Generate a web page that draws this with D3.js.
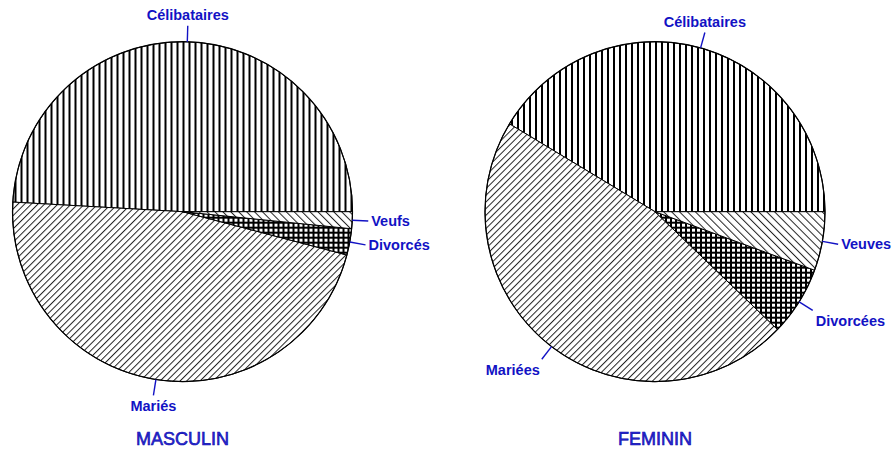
<!DOCTYPE html>
<html>
<head>
<meta charset="utf-8">
<script src="https://cdn.jsdelivr.net/npm/d3@7"></script>
<style>
  html, body { margin: 0; padding: 0; background: #fff; }
  svg { display: block; }
</style>
</head>
<body>
<svg id="chart" width="893" height="455"></svg>
<script>
// ---- data ----
const panels = ["MASCULIN", "FEMININ"];
const categoriesMasculin = ["Célibataires", "Mariés", "Divorcés", "Veufs"];
const categoriesFeminin = ["Célibataires", "Mariées", "Divorcées", "Veuves"];
const valuesMasculin = [49.1, 46.8, 2.5, 1.6];
const valuesFeminin = [41.4, 46.5, 6.6, 5.6];
const patternKeys = ["vert", "slash", "cross", "back"];

// ---- drawing ----
const svg = d3.select("#chart");
const W = 893, H = 455;
const defs = svg.append("defs");

// vertical lines
const pV = defs.append("pattern").attr("id", "vert").attr("patternUnits", "userSpaceOnUse")
  .attr("width", 6).attr("height", 6);
pV.append("rect").attr("width", 6).attr("height", 6).attr("fill", "#fff");
pV.append("rect").attr("x", 0).attr("width", 2).attr("height", 6).attr("fill", "#000");

// "/" lines
const pS = defs.append("pattern").attr("id", "slash").attr("patternUnits", "userSpaceOnUse")
  .attr("width", 4.7).attr("height", 10).attr("patternTransform", "rotate(45)");
pS.append("rect").attr("width", 4.7).attr("height", 10).attr("fill", "#fff");
pS.append("rect").attr("x", 0).attr("width", 1).attr("height", 10).attr("fill", "#222");

// "\" lines
const pB = defs.append("pattern").attr("id", "back").attr("patternUnits", "userSpaceOnUse")
  .attr("width", 5.6).attr("height", 10).attr("patternTransform", "rotate(-45)");
pB.append("rect").attr("width", 5.6).attr("height", 10).attr("fill", "#fff");
pB.append("rect").attr("x", 0).attr("width", 1).attr("height", 10).attr("fill", "#222");

// crosshatch grid
const pC = defs.append("pattern").attr("id", "cross").attr("patternUnits", "userSpaceOnUse")
  .attr("width", 5).attr("height", 5);
pC.append("rect").attr("width", 5).attr("height", 5).attr("fill", "#fff");
pC.append("rect").attr("x", 0).attr("width", 2).attr("height", 5).attr("fill", "#000");
pC.append("rect").attr("y", 0).attr("width", 5).attr("height", 2).attr("fill", "#000");

const blue = "#1212c4";
const R = 170;
const centers = d3.scalePoint().domain(panels).range([182.5, 655]);
const cy = 211.7;

const pie = d3.pie().sort(null)
  .startAngle(Math.PI / 2)
  .endAngle(Math.PI / 2 - 2 * Math.PI);
const arc = d3.arc().innerRadius(0).outerRadius(R);

const datasets = [
  { name: panels[0], cats: categoriesMasculin, vals: valuesMasculin },
  { name: panels[1], cats: categoriesFeminin, vals: valuesFeminin }
];

datasets.forEach(ds => {
  const cx = centers(ds.name);
  const g = svg.append("g").attr("transform", `translate(${cx},${cy})`);
  const arcs = pie(ds.vals.map((v, i) => ({ v, i }))
  ).map(a => a);
  const arcsData = pie.value(d => d.v)(ds.vals.map((v, i) => ({ v, i })));

  g.selectAll("path.slice").data(arcsData).enter().append("path")
    .attr("class", "slice")
    .attr("d", arc)
    .attr("fill", d => `url(#${patternKeys[d.data.i]})`)
    .attr("stroke", "#000")
    .attr("stroke-width", 1)
    .attr("stroke-linejoin", "round");

  g.append("circle").attr("r", R).attr("fill", "none").attr("stroke", "#000").attr("stroke-width", 1.2);

  arcsData.forEach(d => {
    const m = (d.startAngle + d.endAngle) / 2; // d3 angle: 0 at top, clockwise
    const sx = Math.sin(m), syUp = Math.cos(m); // sx: to right, syUp: upward
    const x1 = sx * R, y1 = -syUp * R;
    const x2 = sx * (R + 16), y2 = -syUp * (R + 16);
    g.append("line").attr("x1", x1).attr("y1", y1).attr("x2", x2).attr("y2", y2)
      .attr("stroke", blue).attr("stroke-width", 1.4);
    let anchor, tx, ty;
    if (sx > 0.3) { anchor = "start"; tx = x2 + 3; }
    else if (sx < -0.3) { anchor = "end"; tx = x2 - 2; }
    else { anchor = "middle"; tx = x2; }
    let off = 0;
    if (Math.abs(syUp) > 0.45) off = syUp > 0 ? -11 : 11;
    ty = y2 + off + 5;
    g.append("text").attr("x", tx).attr("y", ty)
      .attr("text-anchor", anchor)
      .attr("font-family", "Liberation Sans, Arial, sans-serif")
      .attr("font-weight", "bold")
      .attr("font-size", "14.5px")
      .attr("fill", blue)
      .text(ds.cats[d.data.i]);
  });

  svg.append("text").attr("x", cx).attr("y", 444.5)
    .attr("text-anchor", "middle")
    .attr("font-family", "Liberation Sans, Arial, sans-serif")
    .attr("font-size", "18px")
    .attr("fill", "#2a2ad8")
    .attr("stroke", "#0a0aa8")
    .attr("stroke-width", 0.6)
    .text(ds.name);
});
</script>
</body>
</html>
